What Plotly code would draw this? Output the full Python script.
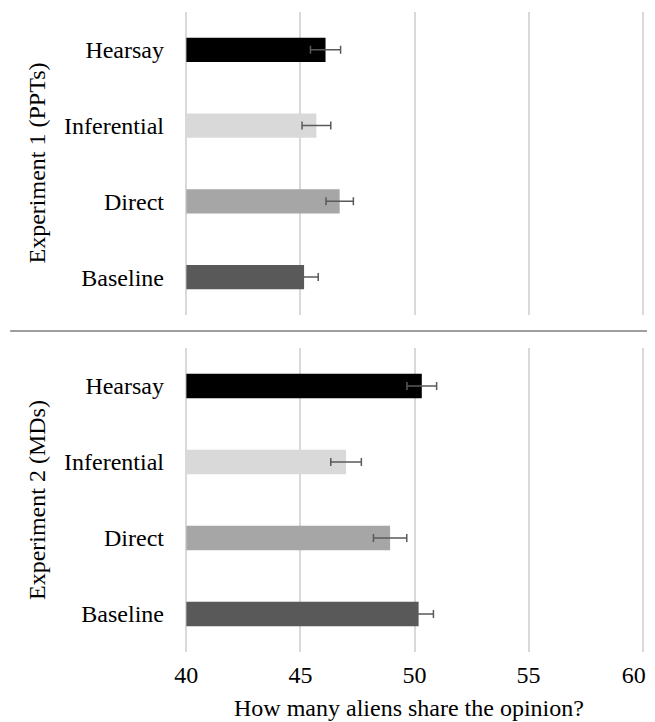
import plotly.graph_objects as go

categories = ["Baseline", "Direct", "Inferential", "Hearsay"]
exp1_means = [45.16, 46.72, 45.70, 46.10]
exp1_se = [0.62, 0.60, 0.63, 0.66]
exp2_means = [50.18, 48.93, 47.00, 50.32]
exp2_se = [0.65, 0.73, 0.67, 0.65]
bar_colors = ["#595959", "#a6a6a6", "#d9d9d9", "#000000"]
panel_titles = ["Experiment 1 (PPTs)", "Experiment 2 (MDs)"]
x_ticks = [40, 45, 50, 55, 60]
x_tick_labels = ["40", "45", "50", "55", "60"]
x_title = "How many aliens share the opinion?"

FONT = "Liberation Serif"
FS = 24
fig = go.Figure()

def add(means, se, xa, ya):
    fig.add_trace(go.Bar(
        y=categories, x=[m - 40 for m in means], base=40, orientation="h",
        marker=dict(color=bar_colors, line=dict(width=0)),
        width=0.32,
        error_x=dict(type="data", array=se, color="#595959", thickness=1.5, width=4),
        xaxis=xa, yaxis=ya, showlegend=False,
    ))

add(exp1_means, exp1_se, "x2", "y2")
add(exp2_means, exp2_se, "x", "y")

# keep the last tick label inside the visible page edge
tick_text = x_tick_labels[:-1] + [x_tick_labels[-1] + "\u00a0" * 3]

axis_common = dict(range=[39.94, 60.06], tickvals=x_ticks, showgrid=True, gridcolor="#d9d9d9",
                   gridwidth=1.5, zeroline=False, showline=False, fixedrange=True, automargin=False)
yaxis_common = dict(showgrid=False, zeroline=False, showline=False, ticks="", automargin=False,
                    tickfont=dict(family=FONT, size=FS, color="#000"),
                    ticklabelstandoff=20, categoryorder="array", categoryarray=categories)

fig.update_layout(
    width=639, height=714,
    font=dict(family=FONT, size=FS, color="#000"),
    margin=dict(l=177, r=3, t=4, b=70),
    paper_bgcolor="white", plot_bgcolor="white",
    xaxis=dict(**axis_common, anchor="y", ticks="outside", ticklen=1, tickcolor="rgba(0,0,0,0)",
               ticktext=tick_text, ticklabeloverflow="allow",
               tickfont=dict(family=FONT, size=FS, color="#000")),
    xaxis2=dict(**axis_common, anchor="y2", matches="x", showticklabels=False),
    yaxis=dict(**yaxis_common, domain=[0, 0.475], anchor="x"),
    yaxis2=dict(**yaxis_common, domain=[0.5266, 1], anchor="x2"),
    shapes=[dict(type="line", xref="paper", yref="paper", x0=-0.381, x1=1.01, y0=0.5016, y1=0.5016,
                 line=dict(color="#7f7f7f", width=1.5))],
    annotations=[
        dict(text=panel_titles[0], xref="paper", yref="paper", x=-0.3224, y=(1 + 0.5266) / 2,
             textangle=-90, showarrow=False, xanchor="center", yanchor="middle",
             font=dict(family=FONT, size=FS, color="#000")),
        dict(text=panel_titles[1], xref="paper", yref="paper", x=-0.3224, y=0.475 / 2,
             textangle=-90, showarrow=False, xanchor="center", yanchor="middle",
             font=dict(family=FONT, size=FS, color="#000")),
        dict(text=x_title, xref="paper", yref="paper", x=0.489, y=-0.0875,
             showarrow=False, xanchor="center", yanchor="middle",
             font=dict(family=FONT, size=FS, color="#000")),
    ],
)

fig.write_html("out.html")
